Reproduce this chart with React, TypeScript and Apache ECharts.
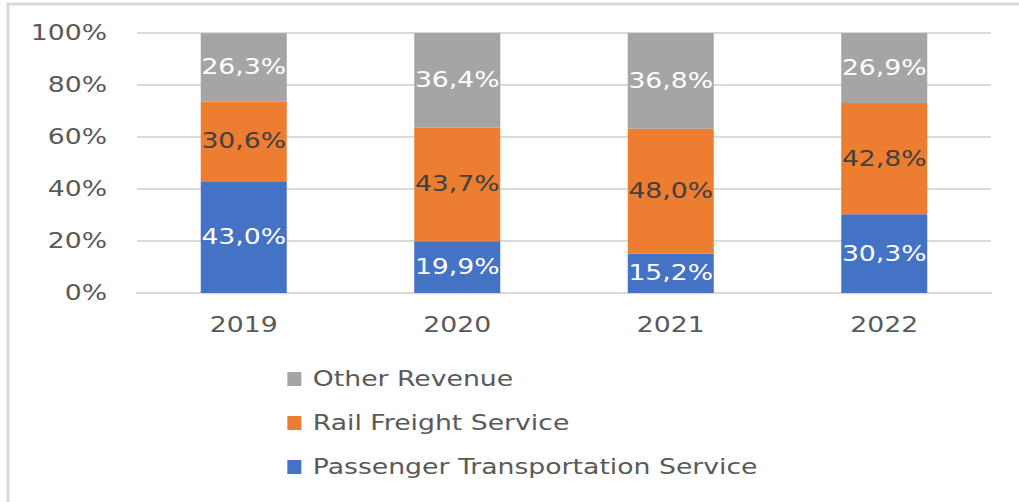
import React, { useEffect, useRef } from "react";
import * as echarts from "echarts";

const years = ["2019", "2020", "2021", "2022"];
const passenger = [43.0, 19.9, 15.2, 30.3];
const railFreight = [30.6, 43.7, 48.0, 42.8];
const otherRevenue = [26.3, 36.4, 36.8, 26.9];
const yTicks = [0, 20, 40, 60, 80, 100];

const FONT = "DejaVu Sans";
const fmt = (v: number) => v.toFixed(1).replace(".", ",") + "%";

// The reference text is horizontally stretched; render narrower and stretch.
const W = 802;
const H = 502;
const SX = 1019 / W;

export default function App() {
  const ref = useRef<HTMLDivElement>(null);
  useEffect(() => {
    if (!ref.current) return;
    const chart = echarts.init(ref.current, undefined, { renderer: "svg" });
    const labelCommon = (color: string) => ({
      show: true,
      position: "inside",
      color,
      fontFamily: FONT,
      fontSize: 21,
      formatter: (p: any) => fmt(p.value),
    });
    const bw = 86 / SX;
    chart.setOption({
      animation: false,
      backgroundColor: "#ffffff",
      grid: { left: 137 / SX, right: 28 / SX, top: 33, bottom: 209, containLabel: false },
      xAxis: {
        type: "category",
        data: years,
        axisLine: { lineStyle: { color: "#d9d9d9", width: 2 } },
        axisTick: { show: false },
        axisLabel: { color: "#595959", fontFamily: FONT, fontSize: 21, margin: 21 },
      },
      yAxis: {
        type: "value",
        min: yTicks[0],
        max: yTicks[yTicks.length - 1],
        interval: 20,
        axisLine: { show: false },
        axisTick: { show: false },
        axisLabel: { color: "#595959", fontFamily: FONT, fontSize: 21, margin: 30 / SX, formatter: (v: number) => v + "%" },
        splitLine: { lineStyle: { color: "#d9d9d9", width: 2 } },
      },
      legend: {
        orient: "vertical",
        left: 281 / SX,
        top: 362,
        itemWidth: 14 / SX,
        itemHeight: 14,
        itemGap: 20,
        icon: "rect",
        data: ["Other Revenue", "Rail Freight Service", "Passenger Transportation Service"],
        textStyle: { color: "#595959", fontFamily: FONT, fontSize: 21, lineHeight: 24, padding: [0, 0, 0, 4] },
      },
      graphic: [
        { type: "line", shape: { x1: 5, y1: 4, x2: W, y2: 4 }, style: { stroke: "#d9d9d9", lineWidth: 3 } },
        { type: "line", shape: { x1: 8 / SX, y1: 3, x2: 8 / SX, y2: H }, style: { stroke: "#d9d9d9", lineWidth: 3 / SX } },
      ],
      series: [
        {
          name: "Passenger Transportation Service",
          type: "bar",
          stack: "total",
          barWidth: bw,
          data: passenger,
          itemStyle: { color: "#4472C4" },
          label: labelCommon("#ffffff"),
        },
        {
          name: "Rail Freight Service",
          type: "bar",
          stack: "total",
          barWidth: bw,
          data: railFreight,
          itemStyle: { color: "#ED7D31" },
          label: labelCommon("#404040"),
        },
        {
          name: "Other Revenue",
          type: "bar",
          stack: "total",
          barWidth: bw,
          data: otherRevenue,
          itemStyle: { color: "#A5A5A5" },
          label: labelCommon("#ffffff"),
        },
      ],
    });
    return () => chart.dispose();
  }, []);
  return (
    <div style={{ position: "fixed", left: 0, top: 0, width: 1019, height: H, background: "#fff", overflow: "hidden" }}>
      <div
        ref={ref}
        style={{ width: W, height: H, transform: `scaleX(${SX})`, transformOrigin: "0 0" }}
      />
    </div>
  );
}
